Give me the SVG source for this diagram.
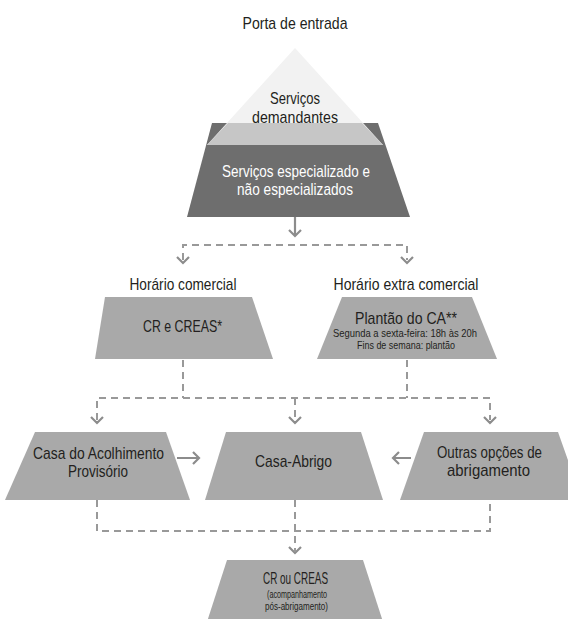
<svg xmlns="http://www.w3.org/2000/svg" width="568" height="619" viewBox="0 0 568 619">
<style>
text{font-family:"Liberation Sans",Arial,sans-serif;text-anchor:middle}
.t{fill:#231f20;font-size:17px}
.w{fill:#ffffff;font-size:17px}
.s{fill:#231f20;font-size:10.5px}
.xs{fill:#231f20;font-size:10px}
.box{fill:#a9a9a9}
.dash{fill:none;stroke:#999;stroke-width:2;stroke-dasharray:7 5}
.arr{fill:none;stroke:#8c8c8c;stroke-width:2.2}
</style>
<rect width="568" height="619" fill="#fff"/>
<text class="t" x="295" y="29" font-size="16" textLength="105" lengthAdjust="spacingAndGlyphs">Porta de entrada</text>
<g id="pyramid">
<polygon points="212,123 378,123 410,217 187,217" fill="#6e6e6e"/>
<polygon points="295,48 383,145 207,145" fill="#f2f2f2"/>
<polygon points="228,123 362,123 383,145 207,145" fill="#c6c6c6"/>
<text class="t" x="295" y="104" textLength="50" lengthAdjust="spacingAndGlyphs">Serviços</text>
<text class="t" x="295" y="123" textLength="86" lengthAdjust="spacingAndGlyphs">demandantes</text>
<text class="w" x="296" y="177" textLength="148" lengthAdjust="spacingAndGlyphs">Serviços especializado e</text>
<text class="w" x="295" y="195" textLength="116" lengthAdjust="spacingAndGlyphs">não especializados</text>
</g>
<g id="connectors">
<path class="arr" d="M295,217V236M289,230L295,236L301,230"/>
<path class="dash" d="M183,260V245H407V260"/>
<path class="arr" d="M177,257L183,263L189,257M401,257L407,263L413,257"/>
<path class="dash" d="M183,360V398M407,360V398M97,420V398H490V420M295,398V420"/>
<path class="arr" d="M91,417L97,423L103,417M289,417L295,423L301,417M484,417L490,423L496,417"/>
<path class="arr" d="M177,458H199M193,452L199,458L193,464"/>
<path class="arr" d="M411,458H393M399,452L393,458L399,464"/>
<path class="dash" d="M97,500V531H490V500M295,500V551"/>
<path class="arr" d="M289,547L295,553L301,547"/>
</g>
<g id="horario-comercial">
<text class="t" x="183" y="290" textLength="107" lengthAdjust="spacingAndGlyphs">Horário comercial</text>
</g>
<g id="horario-extra">
<text class="t" x="406" y="290" textLength="145" lengthAdjust="spacingAndGlyphs">Horário extra comercial</text>
</g>
<g id="cr-creas">
<polygon class="box" points="105,297 252,297 273,359 95,359"/>
<text class="t" x="182.5" y="332" textLength="79" lengthAdjust="spacingAndGlyphs">CR e CREAS*</text>
</g>
<g id="plantao">
<polygon class="box" points="342,297 472,297 497,359 317,359"/>
<text class="t" x="406" y="324" textLength="102" lengthAdjust="spacingAndGlyphs">Plantão do CA**</text>
<text class="s" x="405" y="337" textLength="144" lengthAdjust="spacingAndGlyphs">Segunda a sexta-feira: 18h às 20h</text>
<text class="s" x="406" y="349" textLength="98" lengthAdjust="spacingAndGlyphs">Fins de semana: plantão</text>
</g>
<g id="casa-acolhimento">
<polygon class="box" points="35,432 166,432 190,500 5,500"/>
<text class="t" x="98.5" y="459" textLength="131" lengthAdjust="spacingAndGlyphs">Casa do Acolhimento</text>
<text class="t" x="98" y="477" textLength="60" lengthAdjust="spacingAndGlyphs">Provisório</text>
</g>
<g id="casa-abrigo">
<polygon class="box" points="226,432 361,432 383,500 205,500"/>
<text class="t" x="293.5" y="467" textLength="77" lengthAdjust="spacingAndGlyphs">Casa-Abrigo</text>
</g>
<g id="outras">
<polygon class="box" points="424,432 558,432 582,500 400,500"/>
<text class="t" x="489.5" y="458" textLength="105" lengthAdjust="spacingAndGlyphs">Outras opções de</text>
<text class="t" x="488.5" y="476" textLength="83" lengthAdjust="spacingAndGlyphs">abrigamento</text>
</g>
<g id="cr-ou-creas">
<polygon class="box" points="227,560 363,560 385,628 205,628"/>
<text class="t" x="295.5" y="584" textLength="65" lengthAdjust="spacingAndGlyphs">CR ou CREAS</text>
<text class="xs" x="297" y="598" textLength="60" lengthAdjust="spacingAndGlyphs">(acompanhamento</text>
<text class="xs" x="296.5" y="610" textLength="63" lengthAdjust="spacingAndGlyphs">pós-abrigamento)</text>
</g>
</svg>
